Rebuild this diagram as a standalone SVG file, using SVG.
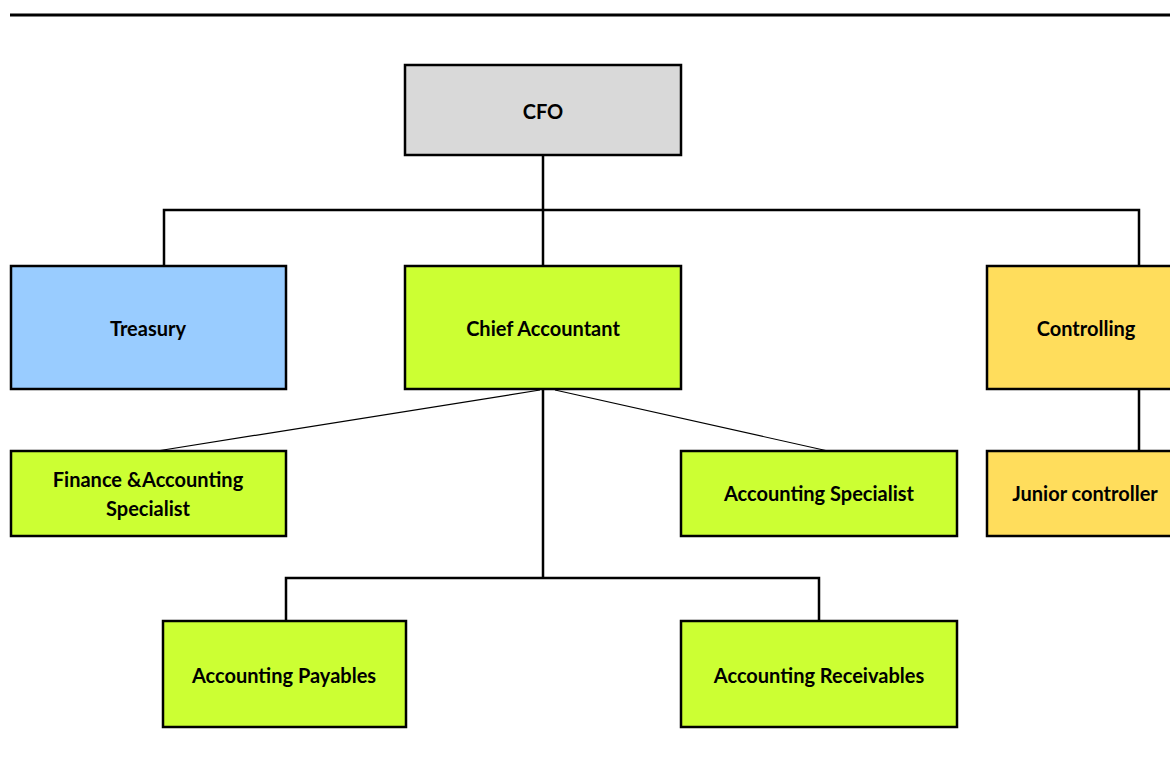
<svg xmlns="http://www.w3.org/2000/svg" width="1170" height="769" viewBox="0 0 1170 769">
<style>
.box{stroke:#000;stroke-width:2.5}
.t{font-family:Lato,"Liberation Sans",sans-serif;font-weight:bold;font-size:20px;fill:#000;text-anchor:middle;dominant-baseline:central}
.c{stroke:#000;stroke-width:2.5;fill:none}
.d{stroke:#000;stroke-width:1.2;fill:none}
.gray{fill:#d9d9d9}.blue{fill:#99ccff}.green{fill:#ccff33}.yellow{fill:#ffdd5c}
</style>
<rect width="1170" height="769" fill="#fff"/>
<line x1="10" y1="15" x2="1170" y2="15" stroke="#000" stroke-width="3"/>
<g id="connectors">
<path class="c" d="M543 155V266M164 266V210H1139V266M1139 389V451M543 389V578M286 621V578H819V621"/>
<path class="d" d="M540 390L157 451M555 390L828 451"/>
</g>
<g id="cfo"><rect class="box gray" x="405" y="65" width="276" height="90"/><text class="t" x="543" y="111">CFO</text></g>
<g id="treasury"><rect class="box blue" x="11" y="266" width="275" height="123"/><text class="t" x="148" y="328">Treasury</text></g>
<g id="chief-accountant"><rect class="box green" x="405" y="266" width="276" height="123"/><text class="t" x="543" y="328">Chief Accountant</text></g>
<g id="controlling"><rect class="box yellow" x="987" y="266" width="200" height="123"/><text class="t" x="1086" y="328">Controlling</text></g>
<g id="finance-accounting-specialist"><rect class="box green" x="11" y="451" width="275" height="85"/><text class="t" x="148" y="479">Finance &amp;Accounting</text><text class="t" x="148" y="508">Specialist</text></g>
<g id="accounting-specialist"><rect class="box green" x="681" y="451" width="276" height="85"/><text class="t" x="819" y="493">Accounting Specialist</text></g>
<g id="junior-controller"><rect class="box yellow" x="987" y="451" width="200" height="85"/><text class="t" x="1085" y="493">Junior controller</text></g>
<g id="accounting-payables"><rect class="box green" x="163" y="621" width="243" height="106"/><text class="t" x="284" y="675">Accounting Payables</text></g>
<g id="accounting-receivables"><rect class="box green" x="681" y="621" width="276" height="106"/><text class="t" x="819" y="675">Accounting Receivables</text></g>
</svg>
